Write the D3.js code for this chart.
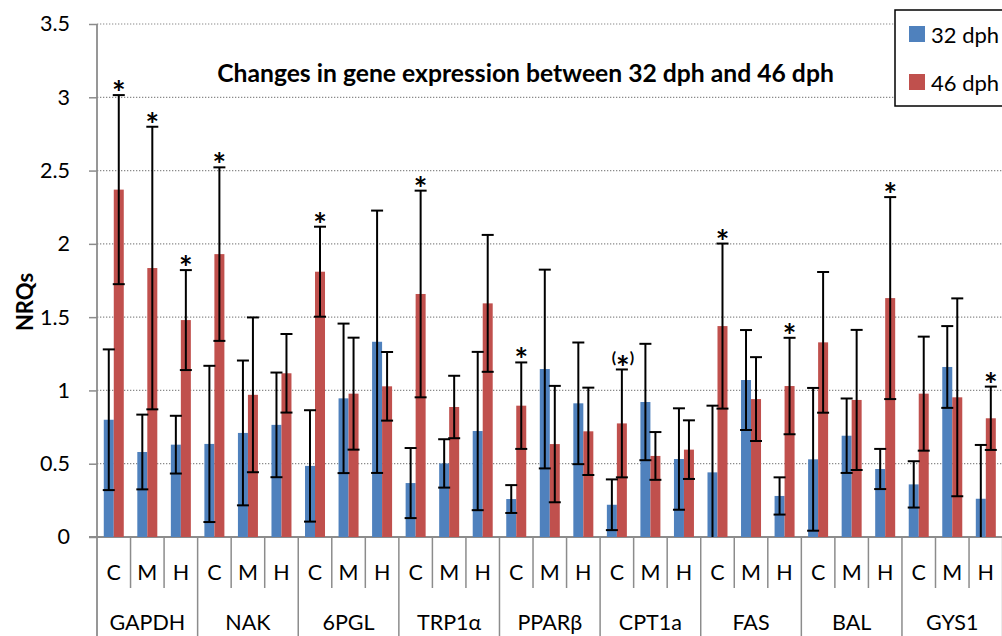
<!DOCTYPE html>
<html>
<head>
<meta charset="utf-8">
<script src="https://cdn.jsdelivr.net/npm/d3@7"></script>
<style>
html,body{margin:0;padding:0;background:#fff;overflow:hidden;}
svg{display:block;}
text{font-family:Lato,"Open Sans",sans-serif;fill:#000;}
</style>
</head>
<body>
<script>
const genes = ["GAPDH","NAK","6PGL","TRP1α","PPARβ","CPT1a","FAS","BAL","GYS1"];
const tissues = ["C","M","H"];
const series = ["32 dph","46 dph"];
const nrq32 = [0.80,0.58,0.63, 0.635,0.71,0.765, 0.485,0.946,1.332, 0.368,0.502,0.723, 0.259,1.146,0.912, 0.22,0.921,0.532, 0.441,1.071,0.28, 0.53,0.691,0.464, 0.359,1.16,0.261];
const err32 = [0.48,0.255,0.197, 0.533,0.494,0.357, 0.38,0.51,0.895, 0.239,0.165,0.54, 0.095,0.678,0.415, 0.173,0.397,0.346, 0.455,0.341,0.127, 0.487,0.254,0.137, 0.158,0.279,0.367];
const nrq46 = [2.37,1.835,1.48, 1.93,0.97,1.117, 1.81,0.978,1.028, 1.658,0.887,1.594, 0.896,0.634,0.721, 0.775,0.553,0.596, 1.439,0.941,1.03, 1.328,0.935,1.63, 0.978,0.953,0.81];
const err46 = [0.645,0.964,0.341, 0.592,0.528,0.268, 0.307,0.382,0.234, 0.705,0.213,0.467, 0.295,0.397,0.298, 0.368,0.163,0.2, 0.563,0.286,0.329, 0.48,0.478,0.689, 0.389,0.675,0.216];
const sig46 = ["*","*","*", "*","","", "*","","", "*","","", "*","","", "(*)","","", "*","","*", "","","*", "","","*"];
const yTicks = [0,0.5,1,1.5,2,2.5,3,3.5];
const yTickLabels = ["0","0.5","1","1.5","2","2.5","3","3.5"];
const titleText = "Changes in gene expression between 32 dph and 46 dph";
const yLabel = "NRQs";
const colors = ["#4F81BD","#C0504D"];

const W = 1002, H = 636;
const svg = d3.select("body").append("svg").attr("width", W).attr("height", H);

const keys = genes.flatMap(g => tissues.map(t => g + "|" + t));
const left = 97, step = 33.54;
const x0 = d3.scaleBand().domain(keys).range([left, left + keys.length * step]);
const x1 = d3.scaleBand().domain(series).range([0, x0.bandwidth()]).paddingInner(0).paddingOuter(0.677);
const y = d3.scaleLinear().domain([0, 3.5]).range([537, 24]);

const gridColor = "#8a8a8a";
const axisColor = "#8c8c8c";

// gridlines
svg.append("g").selectAll("line").data(yTicks.filter(d => d > 0)).join("line")
  .attr("x1", left).attr("x2", W).attr("y1", d => y(d)).attr("y2", d => y(d))
  .attr("stroke", gridColor).attr("stroke-width", 1.2).attr("stroke-dasharray", "1.3,1.7");

// y axis
const yAxis = svg.append("g").attr("transform", `translate(${left},0)`)
  .call(d3.axisLeft(y).tickValues(yTicks).tickFormat((d, i) => yTickLabels[i]).tickSize(8).tickPadding(19));
yAxis.select(".domain").remove();
yAxis.selectAll(".tick line").attr("stroke", axisColor).attr("stroke-width", 1.5);
yAxis.selectAll(".tick text").attr("font-size", 21.5).attr("font-family", "Lato").attr("fill", "#000");

// axis lines
svg.append("line").attr("x1", left).attr("x2", left).attr("y1", y(3.5)).attr("y2", H)
  .attr("stroke", axisColor).attr("stroke-width", 1.8);
svg.append("line").attr("x1", left - 8).attr("x2", W).attr("y1", y(0)).attr("y2", y(0))
  .attr("stroke", axisColor).attr("stroke-width", 1.8);

// category separators
const seps = d3.range(1, keys.length + 1);
svg.append("g").selectAll("line").data(seps).join("line")
  .attr("x1", i => left + i * x0.step()).attr("x2", i => left + i * x0.step())
  .attr("y1", y(0)).attr("y2", i => i % 3 === 0 ? H : 588)
  .attr("stroke", axisColor).attr("stroke-width", 1.5);

// bars
const rows = keys.map((k, i) => ({k, i, vals: [nrq32[i], nrq46[i]], errs: [err32[i], err46[i]], sig: sig46[i]}));
const barData = rows.flatMap(r => series.map((s, j) => ({k: r.k, s, j, v: r.vals[j], e: r.errs[j], sig: j === 1 ? r.sig : ""})));

svg.append("g").selectAll("rect").data(barData).join("rect")
  .attr("x", d => x0(d.k) + x1(d.s))
  .attr("width", x1.bandwidth())
  .attr("y", d => y(d.v))
  .attr("height", d => y(0) - y(d.v))
  .attr("fill", d => colors[d.j]);

// error bars
const eg = svg.append("g").attr("stroke", "#000").attr("stroke-width", 2);
barData.forEach(d => {
  const cx = x0(d.k) + x1(d.s) + x1.bandwidth() / 2;
  const lo = Math.max(0, d.v - d.e), hi = d.v + d.e;
  eg.append("line").attr("x1", cx).attr("x2", cx).attr("y1", y(lo)).attr("y2", y(hi));
  eg.append("line").attr("x1", cx - 6).attr("x2", cx + 6).attr("y1", y(hi)).attr("y2", y(hi));
  if (d.v - d.e > 0) eg.append("line").attr("x1", cx - 6).attr("x2", cx + 6).attr("y1", y(lo)).attr("y2", y(lo));
});

// significance marks
barData.filter(d => d.sig).forEach(d => {
  const cx = x0(d.k) + x1(d.s) + x1.bandwidth() / 2;
  const top = y(d.v + d.e);
  if (d.sig === "*") {
    svg.append("text").attr("x", cx).attr("y", top + 10).attr("text-anchor", "middle")
      .attr("font-size", 32).attr("font-weight", "bold").text("*");
  } else {
    const t = svg.append("text").attr("x", cx + 1).attr("y", top - 6).attr("text-anchor", "middle")
      .attr("font-weight", "bold");
    t.append("tspan").attr("font-size", 16).text("(");
    t.append("tspan").attr("font-size", 32).attr("dy", 17).text("*");
    t.append("tspan").attr("font-size", 16).attr("dy", -17).text(")");
  }
});

// category labels
svg.append("g").selectAll("text").data(keys).join("text")
  .attr("x", k => x0(k) + x0.bandwidth() / 2).attr("y", 580)
  .attr("text-anchor", "middle").attr("font-size", 21.5)
  .text(k => k.split("|")[1]);
svg.append("g").selectAll("text").data(genes).join("text")
  .attr("x", (g, i) => left + (i * 3 + 1.5) * x0.step()).attr("y", 630)
  .attr("text-anchor", "middle").attr("font-size", 21.5)
  .text(g => g);

// title
const title = svg.append("text").attr("x", 525.5).attr("y", 82).attr("text-anchor", "middle")
  .attr("font-weight", "bold").attr("font-size", 22).text(titleText);
const tw = title.node().getComputedTextLength();
title.attr("font-size", 22 * 617 / tw);

// y label
svg.append("text").attr("transform", "translate(33,302) rotate(-90)").attr("text-anchor", "middle")
  .attr("font-weight", "bold").attr("font-size", 22).text(yLabel);

// legend
const lg = svg.append("g");
lg.append("rect").attr("x", 895).attr("y", 10).attr("width", 130).attr("height", 96)
  .attr("fill", "#fff").attr("stroke", "#000").attr("stroke-width", 1.5);
series.forEach((s, i) => {
  lg.append("rect").attr("x", 909).attr("y", 26 + i * 48).attr("width", 16).attr("height", 16).attr("fill", colors[i]);
  lg.append("text").attr("x", 931).attr("y", 43 + i * 48).attr("font-size", 22).text(s);
});
</script>
</body>
</html>
